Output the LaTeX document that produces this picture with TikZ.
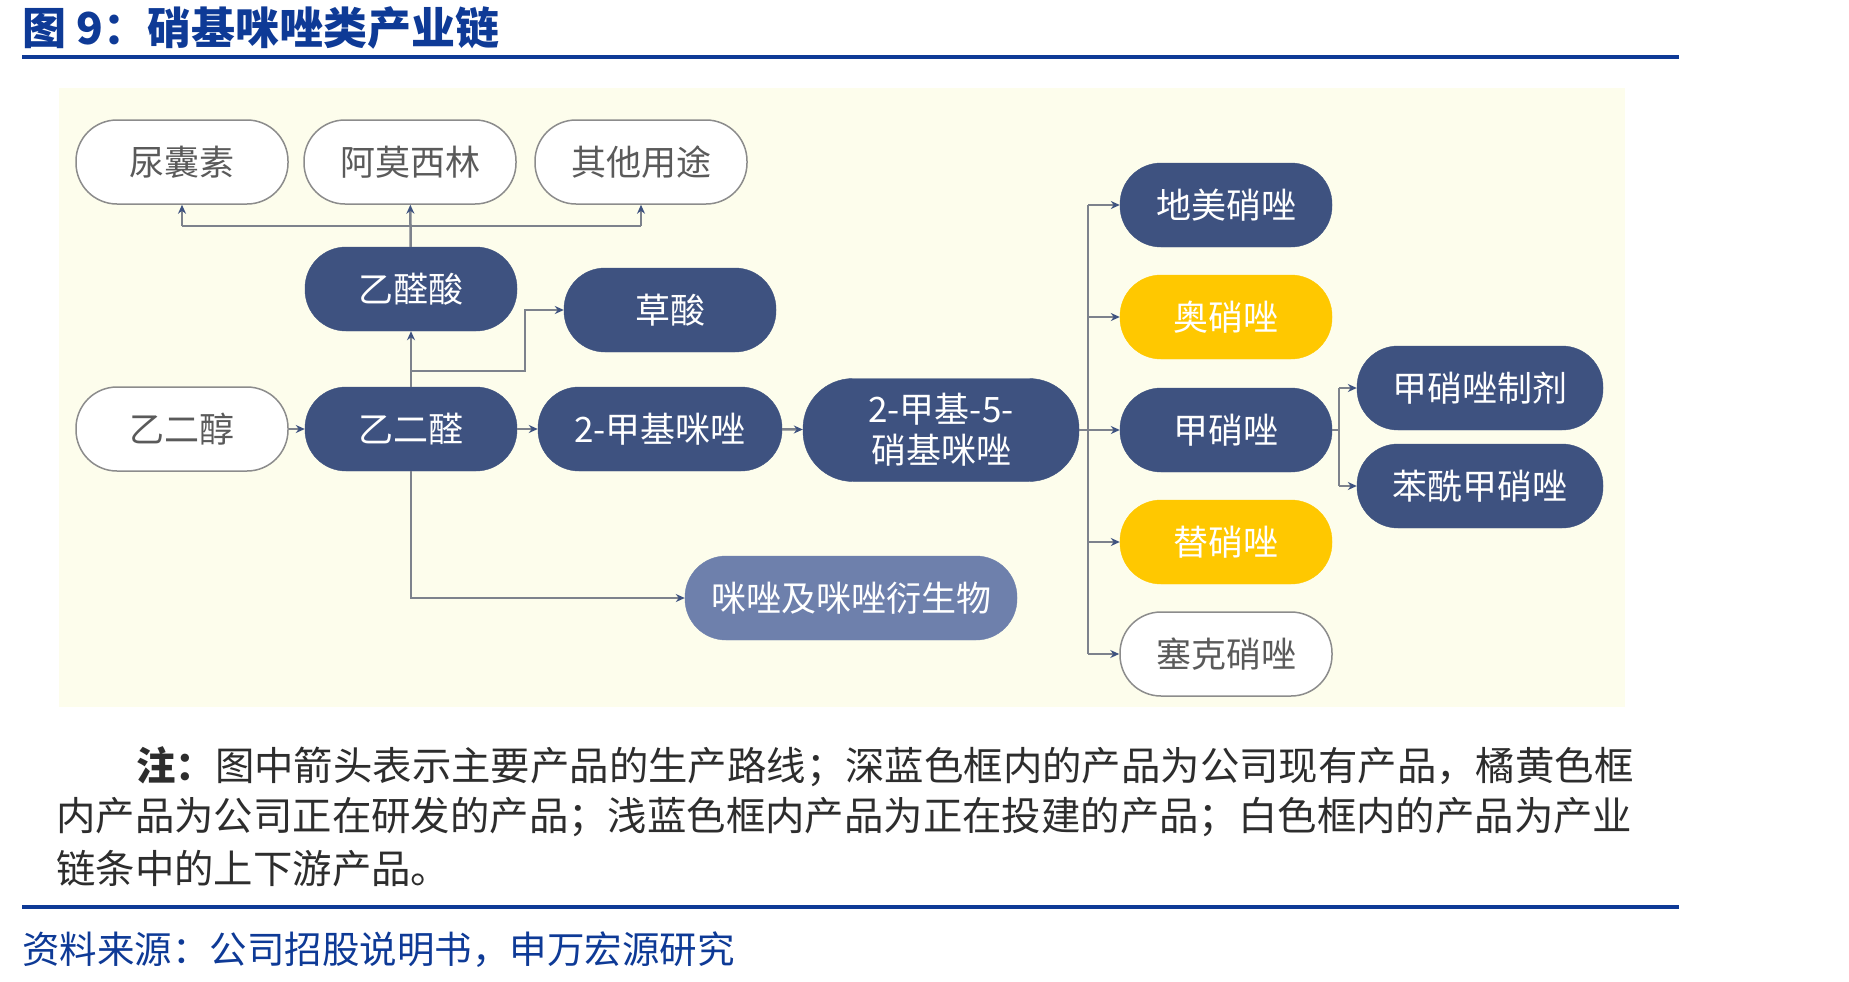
\documentclass[tikz,border=0pt]{standalone}
\usepackage{fontspec}
\newfontfamily\cjk{Noto Sans CJK SC}
\usepackage{xcolor}
\usepackage{tikz}
\usetikzlibrary{arrows.meta}
\definecolor{navy}{RGB}{62,82,128}
\definecolor{gold}{RGB}{255,200,0}
\definecolor{slate}{RGB}{110,128,172}
\definecolor{edgegray}{RGB}{140,140,140}
\definecolor{textgray}{RGB}{90,90,90}
\definecolor{linegray}{RGB}{125,130,140}
\definecolor{titleblue}{RGB}{14,58,150}
\definecolor{cream}{RGB}{253,253,236}
\tikzset{
    tnode/.style = {align=center, inner sep=0pt, rounded corners=41pt, minimum height=84pt, minimum width=212pt, font=\cjk\fontsize{35}{41}\selectfont},
    dark_node/.style = {tnode, fill=navy, draw=navy, text=white},
    gold_node/.style = {tnode, fill=gold, draw=gold, text=white},
    light_node/.style = {tnode, fill=slate, draw=slate, text=white},
    white_node/.style = {tnode, fill=white, draw=edgegray, line width=1.5pt, text=textgray},
    link/.style = {draw=linegray, line width=2.5pt},
    arr/.style = {link, -{Stealth[length=9pt, width=8pt, color=navy]}}
}

\begin{document}
\begin{tikzpicture}[x=1pt, y=-1pt]
    \useasboundingbox (0,0) rectangle (1849,982);
    % heading and rules
    \node [anchor=west, inner sep=0pt, text=titleblue, font=\cjk\bfseries\fontsize{44}{48}\selectfont] (title) at (22,28) {图 9：硝基咪唑类产业链};
    \draw [titleblue, line width=4pt] (22,57) -- (1679,57);
    \fill [cream] (59,88) rectangle (1625,707);

    % upstream / downstream
    \node [white_node] (niao) at (182,162) {尿囊素};
    \node [white_node] (amox) at (410,162) {阿莫西林};
    \node [white_node] (other) at (641,162) {其他用途};
    \node [dark_node] (acid) at (411,289) {乙醛酸};
    \node [dark_node] (oxalic) at (670,310) {草酸};
    \node [white_node] (glycol) at (182,429) {乙二醇};
    \node [dark_node] (glyoxal) at (411,429) {乙二醛};
    \node [dark_node, minimum width=244pt] (mim) at (660,429) {2-甲基咪唑};
    \node [dark_node, minimum width=276pt, minimum height=103pt, rounded corners=50pt] (nmim) at (941,430) {2-甲基-5-\\硝基咪唑};
    \node [light_node, minimum width=332pt] (imid) at (851,598) {咪唑及咪唑衍生物};

    % nitroimidazoles
    \node [dark_node] (dime) at (1226,205) {地美硝唑};
    \node [gold_node] (orni) at (1226,317) {奥硝唑};
    \node [dark_node] (metro) at (1226,430) {甲硝唑};
    \node [gold_node] (tini) at (1226,542) {替硝唑};
    \node [white_node] (secni) at (1226,654) {塞克硝唑};
    \node [dark_node, minimum width=246pt] (prep) at (1480,388) {甲硝唑制剂};
    \node [dark_node, minimum width=246pt] (benz) at (1480,486) {苯酰甲硝唑};

    % connectors
    \coordinate (top) at (411,226);
    \coordinate (split) at (411,371);
    \coordinate (bus) at (1088,430);
    \coordinate (bus2) at (1339,430);

    \draw [arr] (glycol) -- (glyoxal);
    \draw [arr] (glyoxal) -- (mim);
    \draw [arr] (mim) -- (nmim);
    \draw [arr] (glyoxal) -- (acid);
    \draw [arr] (split) -- ++(114,0) |- (oxalic.west);
    \draw [arr] (acid) -- (amox);
    \draw [link] (top -| niao) -- (top -| other);
    \draw [arr] (top -| niao) -- (niao);
    \draw [arr] (top -| other) -- (other);
    \draw [arr] (glyoxal.south) |- (imid.west);

    \draw [link] (nmim.east) -- (bus);
    \draw [link] (bus |- dime) -- (bus |- secni);
    \foreach \n in {dime, orni, metro, tini, secni}
        \draw [arr] (bus |- \n) -- (\n.west);
    \draw [link] (metro.east) -- (bus2);
    \draw [link] (bus2 |- prep) -- (bus2 |- benz);
    \foreach \n in {prep, benz}
        \draw [arr] (bus2 |- \n) -- (\n.west);

    % note and source
    \begin{scope}[every node/.style={anchor=west, inner sep=0pt, text={rgb,255:red,45;green,45;blue,45}, font=\cjk\fontsize{39.4}{44}\selectfont}]
        \node (note1) at (136,767) {\textbf{注：}图中箭头表示主要产品的生产路线；深蓝色框内的产品为公司现有产品，橘黄色框};
        \node (note2) at (56,817) {内产品为公司正在研发的产品；浅蓝色框内产品为正在投建的产品；白色框内的产品为产业};
        \node (note3) at (56,869) {链条中的上下游产品。};
    \end{scope}
    \draw [titleblue, line width=4pt] (22,907) -- (1679,907);
    \node [anchor=west, inner sep=0pt, text=titleblue, font=\cjk\fontsize{37.5}{42}\selectfont] (source) at (22,950) {资料来源：公司招股说明书，申万宏源研究};
\end{tikzpicture}
\end{document}
